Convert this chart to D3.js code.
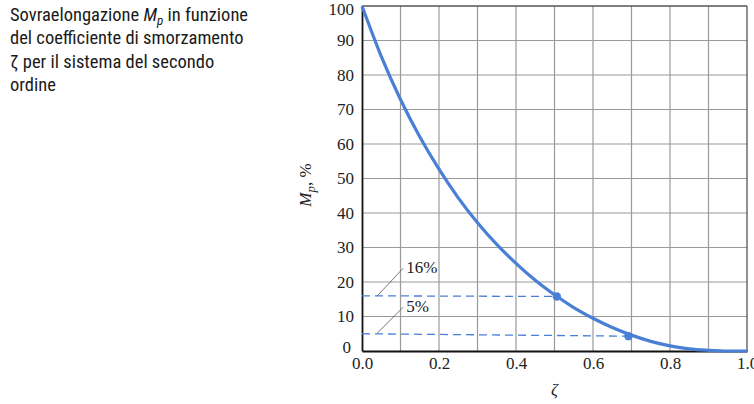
<!DOCTYPE html>
<html>
<head>
<meta charset="utf-8">
<script src="https://cdn.jsdelivr.net/npm/d3@7"></script>
<style>
  body { margin: 0; background: #fff; }
  .tick text { font-family: "Liberation Serif", "DejaVu Serif", serif; font-size: 17px; fill: #222; }
  .caption { font-family: "Liberation Sans Narrow", "Roboto Condensed", "Liberation Sans", sans-serif; font-size: 18.5px; fill: #1a1a1a; }
</style>
</head>
<body>
<div id="viz"></div>
<script>
// damping ratio vs overshoot %
var zeta = [0, 0.05, 0.1, 0.15, 0.2, 0.25, 0.3, 0.35, 0.4, 0.45, 0.5, 0.55, 0.6, 0.65, 0.7, 0.75, 0.8, 0.85, 0.9, 0.95, 1.0];
var mp   = [100, 85.4, 72.9, 62.1, 52.7, 44.4, 37.2, 30.9, 25.4, 20.5, 16.3, 12.6, 9.5, 6.8, 4.6, 2.8, 1.5, 0.6, 0.2, 0, 0];

var xTicks = [0, 0.2, 0.4, 0.6, 0.8, 1.0];
var yTicks = [0, 10, 20, 30, 40, 50, 60, 70, 80, 90, 100];

// marked points and their labels
var marks = [
  {label: "16%", z: 0.506, v: 15.8, lv: 16, tip: [0.04, 16, 0.107, 24]},
  {label: "5%",  z: 0.692, v: 4.3,  lv: 5,  tip: [0.04, 5.2, 0.107, 12.7]}
];

var caption = ["Sovraelongazione M_p in funzione", "del coefficiente di smorzamento", "ζ per il sistema del secondo", "ordine"];

var width = 754, height = 404;
var x = d3.scaleLinear().domain([0, 1]).range([362, 747]);
var y = d3.scaleLinear().domain([0, 100]).range([351, 6]);

var svg = d3.select("#viz").append("svg")
    .attr("width", width)
    .attr("height", height);

// caption text
var cap = svg.append("g");
caption.forEach(function(line, i) {
  var t = cap.append("text").attr("class", "caption").attr("x", 10).attr("y", 21 + i * 23.3);
  if (line.indexOf("M_p") >= 0) {
    var parts = line.split("M_p");
    t.append("tspan").text(parts[0]);
    t.append("tspan").style("font-style", "italic").text("M");
    t.append("tspan").style("font-style", "italic").attr("font-size", 13).attr("dy", 4).text("p");
    t.append("tspan").attr("dy", -4).text(parts[1]);
  } else {
    t.text(line);
  }
});

// grid
var grid = svg.append("g");
grid.selectAll(".vg").data(d3.range(1, 10).map(function(d) { return d / 10; }))
  .enter().append("line")
    .attr("x1", function(d) { return x(d); }).attr("x2", function(d) { return x(d); })
    .attr("y1", y(0)).attr("y2", y(100))
    .attr("stroke", "#9a9a9a").attr("stroke-width", 1.2);
grid.selectAll(".hg").data(yTicks.slice(1, -1))
  .enter().append("line")
    .attr("x1", x(0)).attr("x2", x(1))
    .attr("y1", function(d) { return y(d); }).attr("y2", function(d) { return y(d); })
    .attr("stroke", "#9a9a9a").attr("stroke-width", 1.2);

// frame
svg.append("line").attr("x1", x(0)).attr("x2", x(1)).attr("y1", y(100)).attr("y2", y(100)).attr("stroke", "#555").attr("stroke-width", 1.3);
svg.append("line").attr("x1", x(1)).attr("x2", x(1)).attr("y1", y(0)).attr("y2", y(100)).attr("stroke", "#555").attr("stroke-width", 1.3);

// axes
var xAxis = svg.append("g").attr("transform", "translate(0," + y(0) + ")")
  .call(d3.axisBottom(x).tickValues(xTicks).tickFormat(d3.format(".1f")).tickSize(0).tickPadding(6));
var yAxis = svg.append("g").attr("transform", "translate(" + x(0) + ",0)")
  .call(d3.axisLeft(y).tickValues(yTicks).tickSize(0).tickPadding(8));
xAxis.select(".domain").attr("stroke", "#111").attr("stroke-width", 1.8);
yAxis.select(".domain").attr("stroke", "#111").attr("stroke-width", 1.8);
yAxis.selectAll(".tick").filter(function(d) { return d === 0; }).select("text").attr("dx", -3).attr("dy", "0.1em");
yAxis.selectAll(".tick").filter(function(d) { return d === 100; }).select("text").attr("dy", "0.5em");

// axis titles
svg.append("text").attr("x", x(0.5)).attr("y", 395).attr("text-anchor", "middle")
  .style("font-family", "Liberation Serif, serif").style("font-size", "17px").style("font-style", "italic").attr("fill", "#222").text("ζ");
var yl = svg.append("text").attr("transform", "translate(311,185) rotate(-90)").attr("text-anchor", "middle")
  .style("font-family", "Liberation Serif, serif").style("font-size", "17px").attr("fill", "#222");
yl.append("tspan").style("font-style", "italic").text("M");
yl.append("tspan").style("font-style", "italic").attr("font-size", 13).attr("dy", 4).text("p");
yl.append("tspan").attr("dy", -4).text(", %");

// dashed guides and leaders
marks.forEach(function(m) {
  svg.append("line")
    .attr("x1", x(0)).attr("y1", y(m.lv)).attr("x2", x(m.z)).attr("y2", y(m.v))
    .attr("stroke", "#4a7fd6").attr("stroke-width", 1.3).attr("stroke-dasharray", "8,5");
  svg.append("line")
    .attr("x1", x(m.tip[0])).attr("y1", y(m.tip[1])).attr("x2", x(m.tip[2])).attr("y2", y(m.tip[3]))
    .attr("stroke", "#666").attr("stroke-width", 0.9);
  svg.append("text").attr("x", x(m.tip[2]) + 3).attr("y", y(m.tip[3]) + 5)
    .style("font-family", "Liberation Serif, serif").style("font-size", "17px").attr("fill", "#222").text(m.label);
});

// curve
var line = d3.line().x(function(d) { return x(d[0]); }).y(function(d) { return y(d[1]); }).curve(d3.curveMonotoneX);
svg.append("path").datum(d3.zip(zeta, mp))
  .attr("d", line).attr("fill", "none").attr("stroke", "#4a7fd6").attr("stroke-width", 3.2);

svg.selectAll(".dot").data(marks).enter().append("circle")
  .attr("cx", function(d) { return x(d.z); }).attr("cy", function(d) { return y(d.v); })
  .attr("r", 4.2).attr("fill", "#4a7fd6");
</script>
</body>
</html>
